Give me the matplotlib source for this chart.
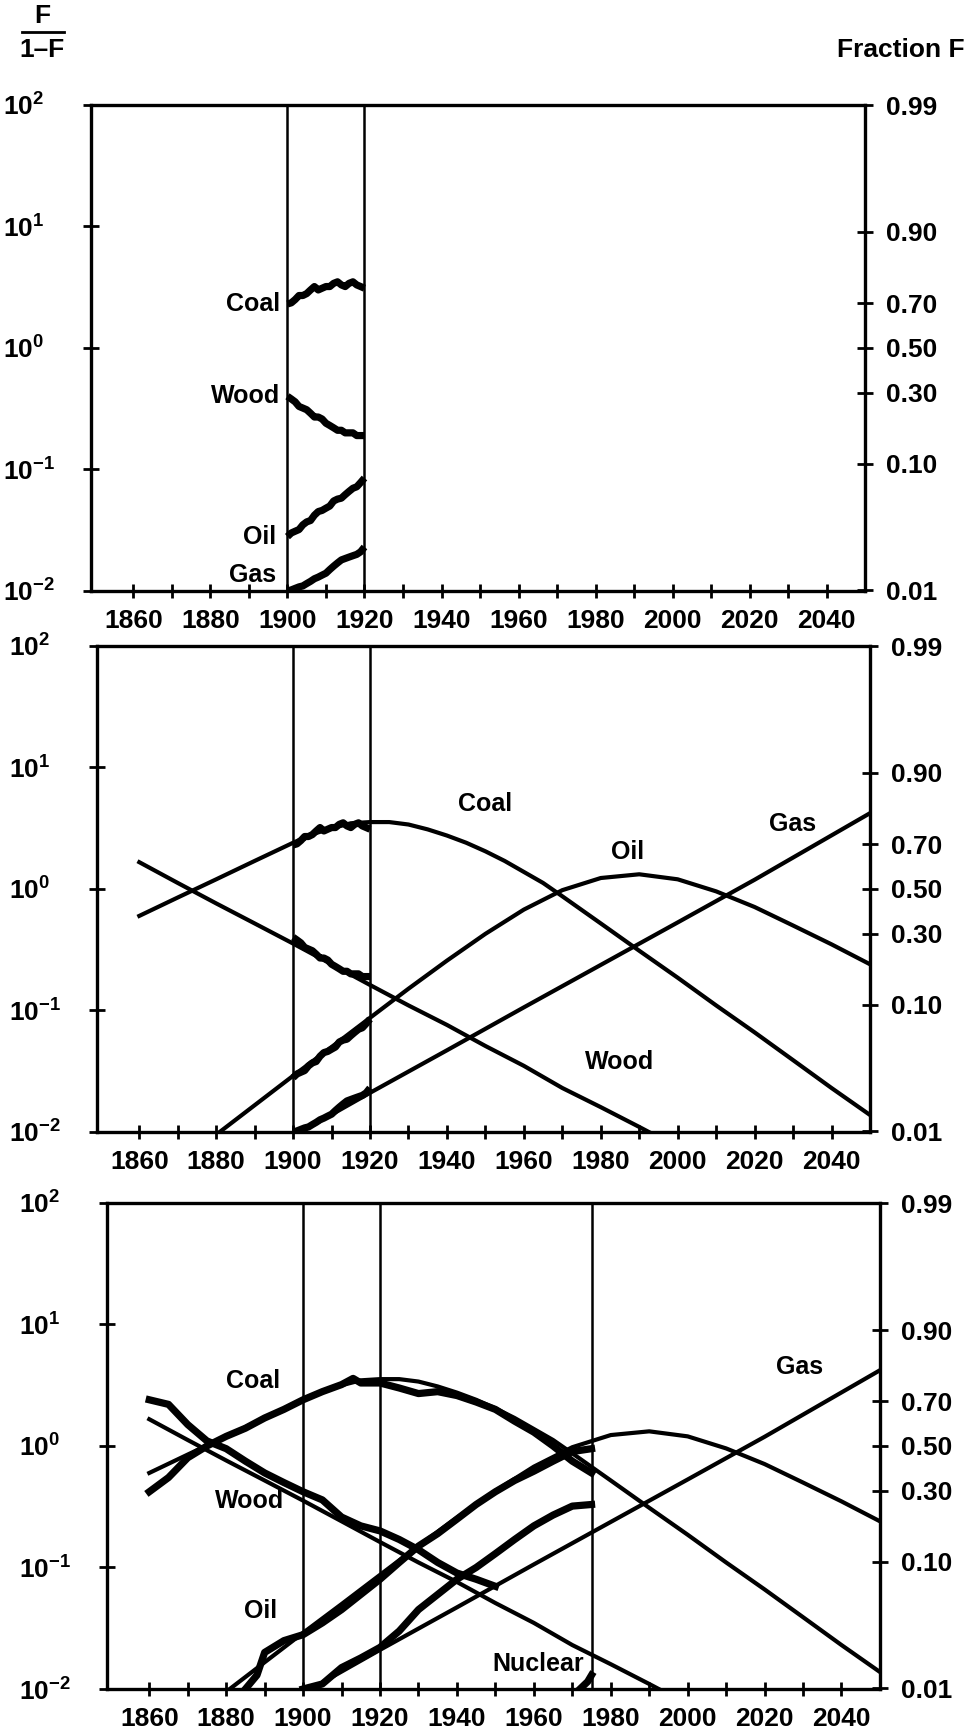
import matplotlib
matplotlib.use("Agg")
import matplotlib.pyplot as plt
from matplotlib.lines import Line2D

plt.rcParams['font.family'] = ['Liberation Sans', 'DejaVu Sans']
plt.rcParams['font.weight'] = 'bold'
plt.rcParams['mathtext.fontset'] = 'custom'
plt.rcParams['mathtext.rm'] = 'Liberation Sans'
plt.rcParams['mathtext.bf'] = 'Liberation Sans:bold'
plt.rcParams['mathtext.default'] = 'bf'

# ---- model curves, F/(1-F) ----
wood_yr = [1860, 1870, 1880, 1890, 1900, 1910, 1920, 1930, 1940, 1950, 1960, 1970, 1980, 1990, 1993]
wood_fit = [1.66, 1.12, 0.76, 0.52, 0.355, 0.24, 0.162, 0.11, 0.076, 0.051, 0.035, 0.023, 0.016, 0.011, 0.0098]

coal_yr = [1860, 1870, 1880, 1890, 1900, 1905, 1910, 1915, 1920, 1925, 1930, 1935, 1940, 1945,
           1950, 1955, 1960, 1965, 1970, 1980, 1990, 2000, 2010, 2020, 2030, 2040, 2050]
coal_fit = [0.60, 0.85, 1.20, 1.70, 2.40, 2.82, 3.16, 3.47, 3.55, 3.55, 3.39, 3.09, 2.75, 2.40,
            2.04, 1.70, 1.38, 1.12, 0.87, 0.52, 0.31, 0.186, 0.11, 0.066, 0.039, 0.023, 0.0138]

oil_yr = [1880, 1890, 1900, 1910, 1920, 1930, 1940, 1950, 1960, 1970, 1980, 1990, 2000, 2010,
          2020, 2030, 2040, 2050]
oil_fit = [0.0095, 0.0166, 0.029, 0.050, 0.087, 0.151, 0.257, 0.427, 0.676, 0.977, 1.23, 1.32,
           1.20, 0.955, 0.71, 0.50, 0.35, 0.24]

gas_yr = [1902, 1920, 1940, 1960, 1980, 2000, 2020, 2050]
gas_fit = [0.0100, 0.021, 0.047, 0.106, 0.237, 0.53, 1.19, 4.2]

# ---- statistics 1900-1920 (panels 1 and 2) ----
early_yr = list(range(1900, 1921))
coal_early = [2.30, 2.35, 2.50, 2.70, 2.70, 2.80, 3.00, 3.20, 3.00, 3.10, 3.20,
              3.20, 3.40, 3.50, 3.30, 3.20, 3.40, 3.50, 3.30, 3.20, 3.10]
wood_early = [0.40, 0.38, 0.36, 0.33, 0.32, 0.31, 0.29, 0.27, 0.27, 0.26, 0.24,
              0.23, 0.22, 0.21, 0.21, 0.20, 0.20, 0.20, 0.19, 0.19, 0.19]
oil_early = [0.028, 0.030, 0.031, 0.032, 0.035, 0.037, 0.038, 0.042, 0.045, 0.046, 0.048,
             0.050, 0.055, 0.057, 0.058, 0.062, 0.066, 0.070, 0.072, 0.078, 0.085]
gas_early = [0.0100, 0.0102, 0.0105, 0.0108, 0.0110, 0.0115, 0.0120, 0.0126, 0.0130, 0.0135, 0.0140,
             0.0150, 0.0160, 0.0170, 0.0180, 0.0185, 0.0190, 0.0195, 0.0200, 0.0210, 0.0230]

# ---- full statistics (panel 3) ----
coal_hist_yr = [1860, 1865, 1870, 1875, 1880, 1885, 1890, 1895, 1900, 1905, 1910, 1913, 1915, 1920,
                1925, 1930, 1935, 1940, 1945, 1950, 1955, 1960, 1965, 1970, 1975]
coal_hist = [0.42, 0.55, 0.80, 1.00, 1.20, 1.40, 1.70, 2.00, 2.40, 2.80, 3.20, 3.60, 3.30, 3.30,
             3.00, 2.70, 2.80, 2.60, 2.30, 2.00, 1.60, 1.30, 1.00, 0.75, 0.60]
wood_hist_yr = [1860, 1865, 1870, 1875, 1880, 1885, 1890, 1895, 1900, 1905, 1910, 1915, 1920,
                1925, 1930, 1935, 1940, 1945, 1950]
wood_hist = [2.40, 2.20, 1.50, 1.10, 0.95, 0.75, 0.60, 0.50, 0.42, 0.36, 0.26, 0.22, 0.20,
             0.17, 0.14, 0.11, 0.09, 0.08, 0.07]
oil_hist_yr = [1885, 1888, 1890, 1895, 1900, 1905, 1910, 1915, 1920, 1925, 1930, 1935, 1940,
               1945, 1950, 1955, 1960, 1965, 1970, 1975]
oil_hist = [0.010, 0.013, 0.020, 0.025, 0.028, 0.035, 0.045, 0.060, 0.080, 0.11, 0.15, 0.19, 0.25,
            0.33, 0.42, 0.52, 0.62, 0.75, 0.90, 0.95]
gas_hist_yr = [1900, 1905, 1910, 1915, 1920, 1925, 1930, 1935, 1940, 1945, 1950, 1955, 1960,
               1965, 1970, 1975]
gas_hist = [0.010, 0.011, 0.015, 0.018, 0.022, 0.030, 0.045, 0.060, 0.080, 0.10, 0.13, 0.17, 0.22,
            0.27, 0.32, 0.33]
nuc_hist_yr = [1972, 1974, 1975]
nuc_hist = [0.0100, 0.0115, 0.0130]

left_ticks = [1e-2, 1e-1, 1e0, 1e1, 1e2]
left_labels = ['$10^{-2}$', '$10^{-1}$', '$10^{0}$', '$10^{1}$', '$10^{2}$']
frac_labels = ['0.01', '0.10', '0.30', '0.50', '0.70', '0.90', '0.99']
frac_values = [0.01, 0.10, 0.30, 0.50, 0.70, 0.90, 0.99]

FS = 18
TFS = 19
LW_FIT = 3.0
LW_DATA = 5.2


def setup(ax, vlines):
    ax.set_yscale('log')
    ax.set_xlim(1849, 2050)
    ax.set_ylim(1e-2, 1e2)
    for s in ax.spines.values():
        s.set_linewidth(2.4)
    ax.set_xticks(range(1860, 2041, 10))
    ax.set_xticklabels([str(y) if y % 20 == 0 else '' for y in range(1860, 2041, 10)])
    ax.tick_params(axis='x', direction='inout', length=10, width=2, pad=8, labelsize=TFS)
    ax.set_yticks(left_ticks)
    ax.set_yticklabels(left_labels)
    ax.minorticks_off()
    ax.tick_params(axis='y', direction='inout', length=12, width=2, pad=57, labelsize=TFS)
    for lab in ax.get_yticklabels():
        lab.set_horizontalalignment('left')
    for v in vlines:
        ax.axvline(v, color='black', lw=1.8)
    ax2 = ax.twinx()
    ax2.set_yscale('log')
    ax2.set_ylim(1e-2, 1e2)
    ax2.set_yticks([f / (1 - f) for f in frac_values])
    ax2.set_yticklabels(frac_labels)
    ax2.minorticks_off()
    ax2.tick_params(axis='y', direction='inout', length=12, width=2, pad=9, labelsize=TFS)
    for s in ax2.spines.values():
        s.set_visible(False)


fig = plt.figure(figsize=(9.69, 17.34), dpi=100)
ax1 = fig.add_axes([0.0939, 0.6592, 0.799, 0.2803])
ax2 = fig.add_axes([0.1001, 0.3472, 0.7977, 0.2803])
ax3 = fig.add_axes([0.1104, 0.02595, 0.7977, 0.2803])

# panel 1: data 1900-1920
setup(ax1, [1900, 1920])
for vals in [coal_early, wood_early, oil_early, gas_early]:
    ax1.plot(early_yr, vals, color='black', lw=LW_DATA, solid_capstyle='butt')
ax1.text(1898, 2.3, 'Coal', ha='right', va='center', fontsize=FS)
ax1.text(1898, 0.40, 'Wood', ha='right', va='center', fontsize=FS)
ax1.text(1897, 0.028, 'Oil', ha='right', va='center', fontsize=FS)
ax1.text(1897, 0.0135, 'Gas', ha='right', va='center', fontsize=FS)

# panel 2: data + fitted logistics
setup(ax2, [1900, 1920])
for yr, vals in [(wood_yr, wood_fit), (coal_yr, coal_fit), (oil_yr, oil_fit), (gas_yr, gas_fit)]:
    ax2.plot(yr, vals, color='black', lw=LW_FIT)
for vals in [coal_early, wood_early, oil_early, gas_early]:
    ax2.plot(early_yr, vals, color='black', lw=LW_DATA, solid_capstyle='butt')
ax2.text(1950, 5.0, 'Coal', ha='center', va='center', fontsize=FS)
ax2.text(1987, 2.0, 'Oil', ha='center', va='center', fontsize=FS)
ax2.text(2030, 3.4, 'Gas', ha='center', va='center', fontsize=FS)
ax2.text(1985, 0.038, 'Wood', ha='center', va='center', fontsize=FS)

# panel 3: full statistics + fitted logistics
setup(ax3, [1900, 1920, 1975])
for yr, vals in [(wood_yr, wood_fit), (coal_yr, coal_fit), (oil_yr, oil_fit), (gas_yr, gas_fit)]:
    ax3.plot(yr, vals, color='black', lw=LW_FIT)
for yr, vals in [(coal_hist_yr, coal_hist), (wood_hist_yr, wood_hist), (oil_hist_yr, oil_hist),
                 (gas_hist_yr, gas_hist), (nuc_hist_yr, nuc_hist)]:
    ax3.plot(yr, vals, color='black', lw=LW_DATA)
ax3.text(1887, 3.4, 'Coal', ha='center', va='center', fontsize=FS)
ax3.text(1886, 0.35, 'Wood', ha='center', va='center', fontsize=FS)
ax3.text(1889, 0.044, 'Oil', ha='center', va='center', fontsize=FS)
ax3.text(1961, 0.016, 'Nuclear', ha='center', va='center', fontsize=FS)
ax3.text(2029, 4.5, 'Gas', ha='center', va='center', fontsize=FS)

# header texts
fig.text(42 / 969, 1 - 16 / 1734, 'F', ha='center', va='center', fontsize=TFS)
fig.add_artist(Line2D([22 / 969, 64 / 969], [1 - 32 / 1734, 1 - 32 / 1734], color='black', lw=2))
fig.text(42 / 969, 1 - 50 / 1734, '1\u2013F', ha='center', va='center', fontsize=TFS)
fig.text(965 / 969, 1 - 50 / 1734, 'Fraction F', ha='right', va='center', fontsize=TFS)

fig.savefig('out.png', dpi=100)
